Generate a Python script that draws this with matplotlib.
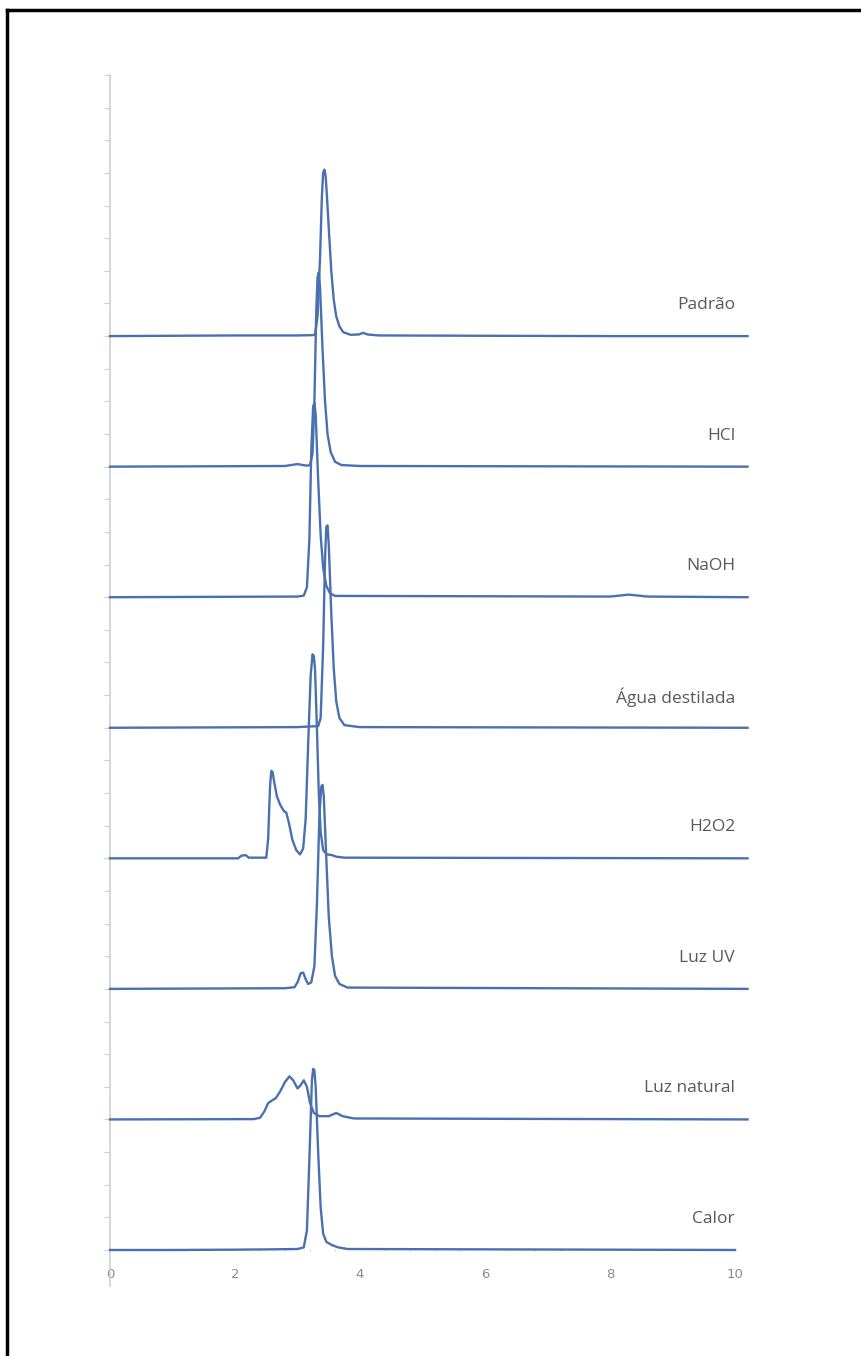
import matplotlib.pyplot as plt
from matplotlib.lines import Line2D
from matplotlib.ticker import MultipleLocator
import numpy as np

# chromatograms (time in min, signal in axis units)
labels = ['Padrão', 'HCl', 'NaOH', 'Água destilada', 'H2O2', 'Luz UV', 'Luz natural', 'Calor']

padrao_x = [0, 2.0, 3.0, 3.25, 3.28, 3.32, 3.36, 3.39, 3.41, 3.43, 3.45, 3.47, 3.50, 3.54, 3.58, 3.62, 3.67, 3.73, 3.85, 3.98, 4.05, 4.12, 4.3, 6.0, 8.0, 10.2]
padrao_y = [0, 0.02, 0.02, 0.03, 0.05, 0.6, 2.4, 4.3, 5.0, 5.1, 4.9, 4.3, 3.3, 2.0, 1.1, 0.6, 0.3, 0.12, 0.04, 0.05, 0.1, 0.05, 0.02, 0.01, 0.0, 0.0]

hcl_x = [0, 2.8, 3.0, 3.08, 3.15, 3.2, 3.24, 3.27, 3.30, 3.32, 3.34, 3.36, 3.40, 3.44, 3.48, 3.53, 3.6, 3.7, 4.0, 10.2]
hcl_y = [0, 0.02, 0.08, 0.05, 0.03, 0.05, 0.4, 2.0, 4.8, 5.8, 5.95, 5.5, 3.6, 2.0, 1.0, 0.45, 0.15, 0.05, 0.02, 0]

naoh_x = [0, 3.0, 3.1, 3.15, 3.19, 3.22, 3.25, 3.27, 3.29, 3.33, 3.37, 3.41, 3.46, 3.52, 3.6, 8.0, 8.3, 8.6, 10.2]
naoh_y = [0, 0.02, 0.05, 0.3, 1.8, 4.5, 5.85, 5.95, 5.6, 3.6, 1.9, 0.9, 0.35, 0.12, 0.04, 0.02, 0.08, 0.02, 0]

agua_x = [0, 3.0, 3.2, 3.33, 3.37, 3.41, 3.44, 3.46, 3.48, 3.50, 3.54, 3.58, 3.62, 3.67, 3.75, 4.0, 10.2]
agua_y = [0, 0.02, 0.04, 0.05, 0.3, 2.5, 5.2, 6.15, 6.2, 5.6, 3.5, 1.8, 0.8, 0.3, 0.08, 0.02, 0]

h2o2_x = [0, 2.05, 2.1, 2.17, 2.22, 2.5, 2.53, 2.56, 2.58, 2.60, 2.63, 2.67, 2.72, 2.78, 2.82, 2.86, 2.92, 2.98, 3.04,
          3.09, 3.13, 3.17, 3.21, 3.24, 3.26, 3.28, 3.31, 3.34, 3.37, 3.41, 3.47, 3.55, 3.62, 3.75, 10.2]
h2o2_y = [0, 0.0, 0.08, 0.1, 0.02, 0.02, 0.6, 2.2, 2.68, 2.65, 2.3, 1.9, 1.65, 1.45, 1.4, 1.1, 0.55, 0.25, 0.12,
          0.3, 1.2, 3.5, 5.6, 6.25, 6.2, 5.8, 4.0, 2.0, 0.8, 0.25, 0.12, 0.1, 0.05, 0.02, 0]

uv_x = [0, 2.8, 2.95, 3.0, 3.05, 3.09, 3.13, 3.17, 3.22, 3.27, 3.31, 3.35, 3.38, 3.40, 3.42, 3.46, 3.5, 3.55, 3.6, 3.67, 3.8, 10.2]
uv_y = [0, 0.02, 0.05, 0.2, 0.48, 0.5, 0.3, 0.15, 0.2, 0.7, 2.6, 5.3, 6.2, 6.25, 5.9, 4.0, 2.2, 1.0, 0.4, 0.15, 0.04, 0]

natural_x = [0, 2.3, 2.4, 2.47, 2.53, 2.59, 2.65, 2.72, 2.8, 2.87, 2.93, 3.0, 3.05, 3.1, 3.15, 3.2, 3.26, 3.35, 3.5, 3.62, 3.72, 3.9, 10.2]
natural_y = [0, 0.01, 0.05, 0.25, 0.5, 0.58, 0.65, 0.85, 1.15, 1.32, 1.2, 0.95, 1.05, 1.2, 1.0, 0.5, 0.2, 0.1, 0.1, 0.2, 0.1, 0.03, 0]

calor_x = [0, 1.0, 2.0, 2.6, 3.0, 3.1, 3.15, 3.19, 3.23, 3.25, 3.27, 3.29, 3.33, 3.37, 3.41, 3.46, 3.55, 3.65, 3.8, 10.0]
calor_y = [0, 0.0, 0.01, 0.02, 0.03, 0.08, 0.6, 2.8, 5.2, 5.55, 5.5, 5.0, 3.0, 1.3, 0.5, 0.25, 0.15, 0.08, 0.03, 0]

traces = [(padrao_x, padrao_y), (hcl_x, hcl_y), (naoh_x, naoh_y), (agua_x, agua_y),
          (h2o2_x, h2o2_y), (uv_x, uv_y), (natural_x, natural_y), (calor_x, calor_y)]

step = 4  # vertical offset between traces

fig = plt.figure(figsize=(8.61, 13.56), dpi=100)
ax = fig.add_axes([0.1278, 0.0782 - 0.0265, 0.7259, 0.8665 + 0.0265])

line_col = '#4a70b0'
n = len(traces)
for i, (xs, ys) in enumerate(traces):
    off = (n - 1 - i) * step
    ax.plot(xs, np.array(ys) + off, color=line_col, lw=1.7, clip_on=False, zorder=3,
            solid_joinstyle='round')
    ax.text(10, off + 0.95, labels[i], ha='right', va='center', fontsize=12.5,
            color='#595959', family=['Open Sans', 'DejaVu Sans'])

ax.set_xlim(0, 10)
ax.set_ylim(-1.1, 36)

ax.spines['top'].set_visible(False)
ax.spines['right'].set_visible(False)
ax.spines['bottom'].set_position(('data', 0))
ax.spines['bottom'].set_visible(False)
ax.spines['left'].set_color('#d0d0d0')
ax.spines['left'].set_linewidth(1.2)

ax.set_xticks(np.arange(0, 11, 2))
ax.xaxis.set_minor_locator(MultipleLocator(0.4))
ax.tick_params(axis='x', which='major', length=0, pad=13, labelsize=9.5, labelcolor='#8a8a8a')
ax.tick_params(axis='x', which='minor', length=2, direction='inout', color='#c0c0c0')

ax.set_yticks(np.arange(0, 37, 1))
ax.tick_params(axis='y', which='major', length=4, direction='out', color='#d0d0d0', labelleft=False)

# frame around the picture (left and top edges only are visible)
fig.add_artist(Line2D([0.0087, 0.0087], [0, 0.9923], color='black', lw=2.5, transform=fig.transFigure))
fig.add_artist(Line2D([0.0087, 1.0], [0.9923, 0.9923], color='black', lw=2.5, transform=fig.transFigure))

fig.savefig('out.png', dpi=100)
